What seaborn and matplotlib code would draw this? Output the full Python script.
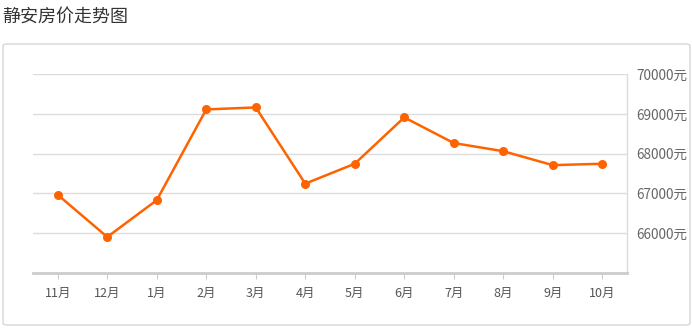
import matplotlib
matplotlib.use("Agg")
import matplotlib.pyplot as plt
from matplotlib.patches import FancyBboxPatch
import seaborn as sns
import pandas as pd

months = ["11月", "12月", "1月", "2月", "3月", "4月", "5月", "6月", "7月", "8月", "9月", "10月"]
prices = [66965, 65905, 66830, 69110, 69160, 67245, 67745, 68910, 68265, 68060, 67710, 67745]
yticks = [66000, 67000, 68000, 69000, 70000]
ytick_labels = ["66000元", "67000元", "68000元", "69000元", "70000元"]
title = "静安房价走势图"

sns.set_theme(style="white")
plt.rcParams["font.family"] = ["Noto Sans CJK SC", "DejaVu Sans"]

df = pd.DataFrame({"month": months, "price": prices})

fig = plt.figure(figsize=(6.92, 3.29), dpi=100)
W, H = 692, 329

# outer panel box
box = FancyBboxPatch((3 / W, 4 / H), 687 / W, 281 / H,
                     boxstyle="round,pad=0,rounding_size=0.006",
                     transform=fig.transFigure, facecolor="none",
                     edgecolor="#d6d6d6", linewidth=1.0, zorder=-5)
fig.patches.append(box)

fig.text(2 / W, 1 - 17 / H, title, fontsize=13, color="#333333",
         ha="left", va="center")

ax = fig.add_axes([33 / W, 1 - 273 / H, 594 / W, 199 / H])
ax.set_zorder(2)
ax.set_facecolor("none")

sns.lineplot(data=df, x="month", y="price", ax=ax, sort=False,
             color="#ff6300", linewidth=1.8, marker="o", markersize=6.5,
             markeredgewidth=0, zorder=3)

ax.set_xlim(-0.5, len(months) - 0.5)
ax.set_ylim(65000, 70000)
ax.set_yticks(yticks)
ax.set_yticklabels(ytick_labels)
ax.yaxis.tick_right()
ax.grid(axis="y", color="#dcdcdc", linewidth=1.0, zorder=0)
ax.grid(axis="x", visible=False)

for s in ["top", "left"]:
    ax.spines[s].set_visible(False)
ax.spines["right"].set_color("#dcdcdc")
ax.spines["right"].set_linewidth(1.0)
ax.spines["bottom"].set_color("#cccccc")
ax.spines["bottom"].set_linewidth(2.0)

ax.tick_params(axis="y", length=0, pad=6.5, labelsize=9.8, labelcolor="#666666")
ax.tick_params(axis="x", length=4, width=0.8, color="#cccccc", pad=6,
               labelsize=9, labelcolor="#555555", bottom=True)
ax.set_xlabel("")
ax.set_ylabel("")

fig.savefig("out.png", dpi=100)
